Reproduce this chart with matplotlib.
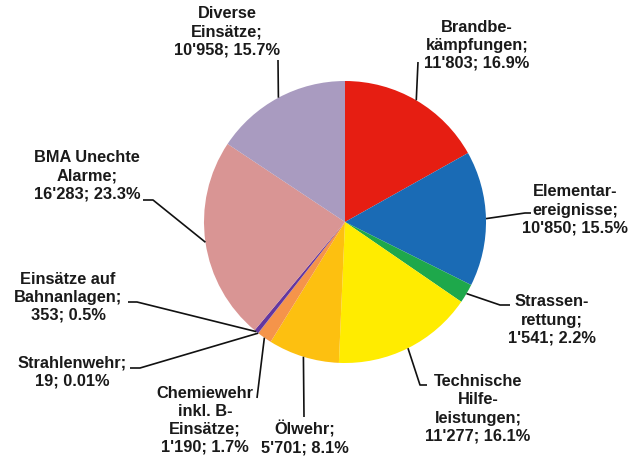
import matplotlib
matplotlib.use("Agg")
import matplotlib.pyplot as plt
import numpy as np

# ---- data ----
categories = ["Brandbe-\nkämpfungen", "Elementar-\nereignisse", "Strassen-\nrettung",
              "Technische\nHilfe-\nleistungen", "Ölwehr", "Chemiewehr\ninkl. B-\nEinsätze",
              "Strahlenwehr", "Einsätze auf\nBahnanlagen", "BMA Unechte\nAlarme",
              "Diverse\nEinsätze"]
values = [11803, 10850, 1541, 11277, 5701, 1190, 19, 353, 16283, 10958]
pct_labels = ["16.9%", "15.5%", "2.2%", "16.1%", "8.1%", "1.7%", "0.01%", "0.5%", "23.3%", "15.7%"]
colors = ["#E61E12", "#1A6BB5", "#1EA84B", "#FFEC00", "#FDC010", "#F5944A",
          "#7B5AA6", "#6437A0", "#D99594", "#A99BC0"]

# ---- layout (pixel coordinates, y downward) ----
W, H = 643, 459
cx, cy, R = 345, 222, 141
label_pos = [(477, 45.5), (575, 210), (552, 320), (478, 409), (305, 437.5),
             (205, 420.5), (72, 372.5), (68, 297.5), (87, 176), (227, 32)]
# elbow points for the leader lines (after the start on the wedge edge)
elbows = [[(418, 62)],
          [(525, 213), (531, 213)],
          [(500, 305), (510, 305)],
          [(420, 385), (427, 385)],
          [(304, 417)],
          [(257, 398)],
          [(140, 368), (130, 368)],
          [(137, 302), (128, 302)],
          [(153, 200), (143, 200)],
          [(278, 60)]]

plt.rcParams['font.family'] = ['Liberation Sans', 'DejaVu Sans']

fig = plt.figure(figsize=(W / 100, H / 100), dpi=100)
ax = fig.add_axes([0, 0, 1, 1])

wedges, _ = ax.pie(values, colors=colors, startangle=-90, counterclock=True,
                   center=(cx, cy), radius=R,
                   wedgeprops=dict(linewidth=0, antialiased=True))
ax.set_xlim(0, W)
ax.set_ylim(H, 0)
ax.set_aspect('equal')
ax.axis('off')

for w, cat, v, p, (lx, ly), elb in zip(wedges, categories, values, pct_labels, label_pos, elbows):
    mid = np.deg2rad((w.theta1 + w.theta2) / 2)
    sx, sy = cx + R * np.cos(mid), cy + R * np.sin(mid)
    xs = [sx] + [e[0] for e in elb]
    ys = [sy] + [e[1] for e in elb]
    ax.plot(xs, ys, color="#111111", lw=1.2, solid_capstyle='butt', zorder=3)
    txt = f"{cat};\n{v:,}".replace(",", "'") + f"; {p}"
    ax.text(lx, ly, txt, ha='center', va='center', multialignment='center',
            fontsize=11.8, fontweight='bold', color="#1a1a1a", linespacing=1.25)

fig.savefig("out.png", dpi=100)
